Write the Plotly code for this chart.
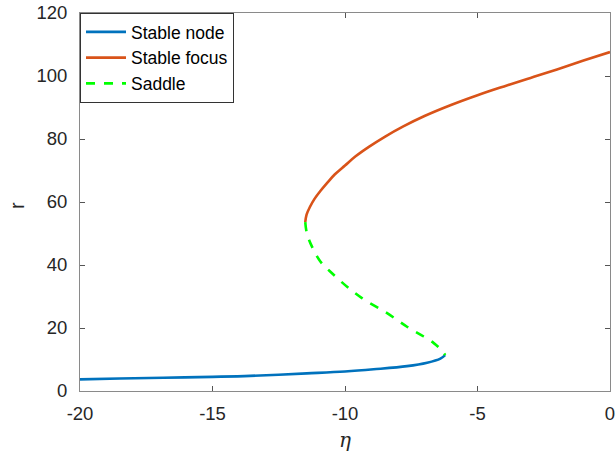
import plotly.graph_objects as go

# Equilibrium branches of r versus eta
node_eta = [-20.0, -18.5, -16.85, -15.0, -13.58, -11.44, -10.0, -8.92, -7.66, -6.90, -6.40, -6.22]
node_r = [3.7, 3.95, 4.2, 4.5, 4.8, 5.6, 6.2, 6.9, 7.9, 9.0, 10.3, 11.4]

focus_eta = [-11.50, -11.45, -11.32, -11.15, -10.93, -10.68, -10.38, -10.00, -9.60, -9.10,
             -8.50, -7.80, -7.00, -6.00, -5.00, -4.00, -3.00, -2.00, -1.00, 0.00]
focus_r = [53.6, 56.0, 58.5, 61.0, 63.5, 66.0, 68.8, 71.6, 74.5, 77.5,
           80.7, 84.0, 87.3, 90.8, 93.9, 96.7, 99.4, 102.1, 104.9, 107.6]

saddle_eta = [-11.50, -11.44, -11.25, -10.93, -10.49, -9.92, -9.36, -8.41, -7.66, -7.03, -6.65, -6.34, -6.22]
saddle_r = [53.6, 50.1, 45.9, 41.1, 37.4, 33.1, 29.5, 24.7, 20.4, 17.3, 15.2, 12.8, 11.4]

x_ticks = [-20, -15, -10, -5, 0]
x_tick_text = ["-20", "-15", "-10", "-5", "0"]
y_ticks = [0, 20, 40, 60, 80, 100, 120]

FONT = "Liberation Sans, Arial, sans-serif"
AXIS_GRAY = "#8a8a8a"
TEXT = "#262626"

fig = go.Figure()
fig.add_trace(go.Scatter(x=node_eta, y=node_r, mode="lines", name="Stable node",
                         line=dict(color="#0072BD", width=2.6, shape="spline")))
fig.add_trace(go.Scatter(x=focus_eta, y=focus_r, mode="lines", name="Stable focus",
                         line=dict(color="#D95319", width=2.6, shape="spline")))
fig.add_trace(go.Scatter(x=saddle_eta, y=saddle_r, mode="lines", name="Saddle",
                         line=dict(color="#00FF00", width=2.6, dash="dash", shape="spline")))

axis_common = dict(
    showgrid=False, zeroline=False, showline=True, linecolor=AXIS_GRAY, linewidth=1,
    mirror="ticks", ticks="inside", ticklen=5, tickcolor="#555555", tickwidth=1,
    tickfont=dict(family=FONT, size=18.5, color=TEXT), automargin=False,
)

fig.update_layout(
    width=616, height=462,
    margin=dict(l=80, r=6, t=13, b=71),
    plot_bgcolor="white", paper_bgcolor="white",
    xaxis=dict(range=[-20, 0], tickvals=x_ticks, ticktext=x_tick_text,
               ticklabelstandoff=6, **axis_common),
    yaxis=dict(range=[0, 120], tickvals=y_ticks, ticklabelstandoff=8, **axis_common),
    legend=dict(x=0, y=1, xanchor="left", yanchor="top", bgcolor="white",
                bordercolor="#333333", borderwidth=1,
                font=dict(family=FONT, size=17.5, color="#000000"),
                itemwidth=40, tracegroupgap=0),
    showlegend=True,
    annotations=[
        dict(text="<i>η</i>", xref="paper", yref="paper", x=0.5, y=-0.13,
             xanchor="center", yanchor="middle", showarrow=False,
             font=dict(family="DejaVu Serif, serif", size=20, color=TEXT)),
        dict(text="r", xref="paper", yref="paper", x=-0.119, y=0.492,
             xanchor="center", yanchor="middle", showarrow=False, textangle=-90,
             font=dict(family=FONT, size=20, color=TEXT)),
    ],
)

fig.write_html("out.html")
